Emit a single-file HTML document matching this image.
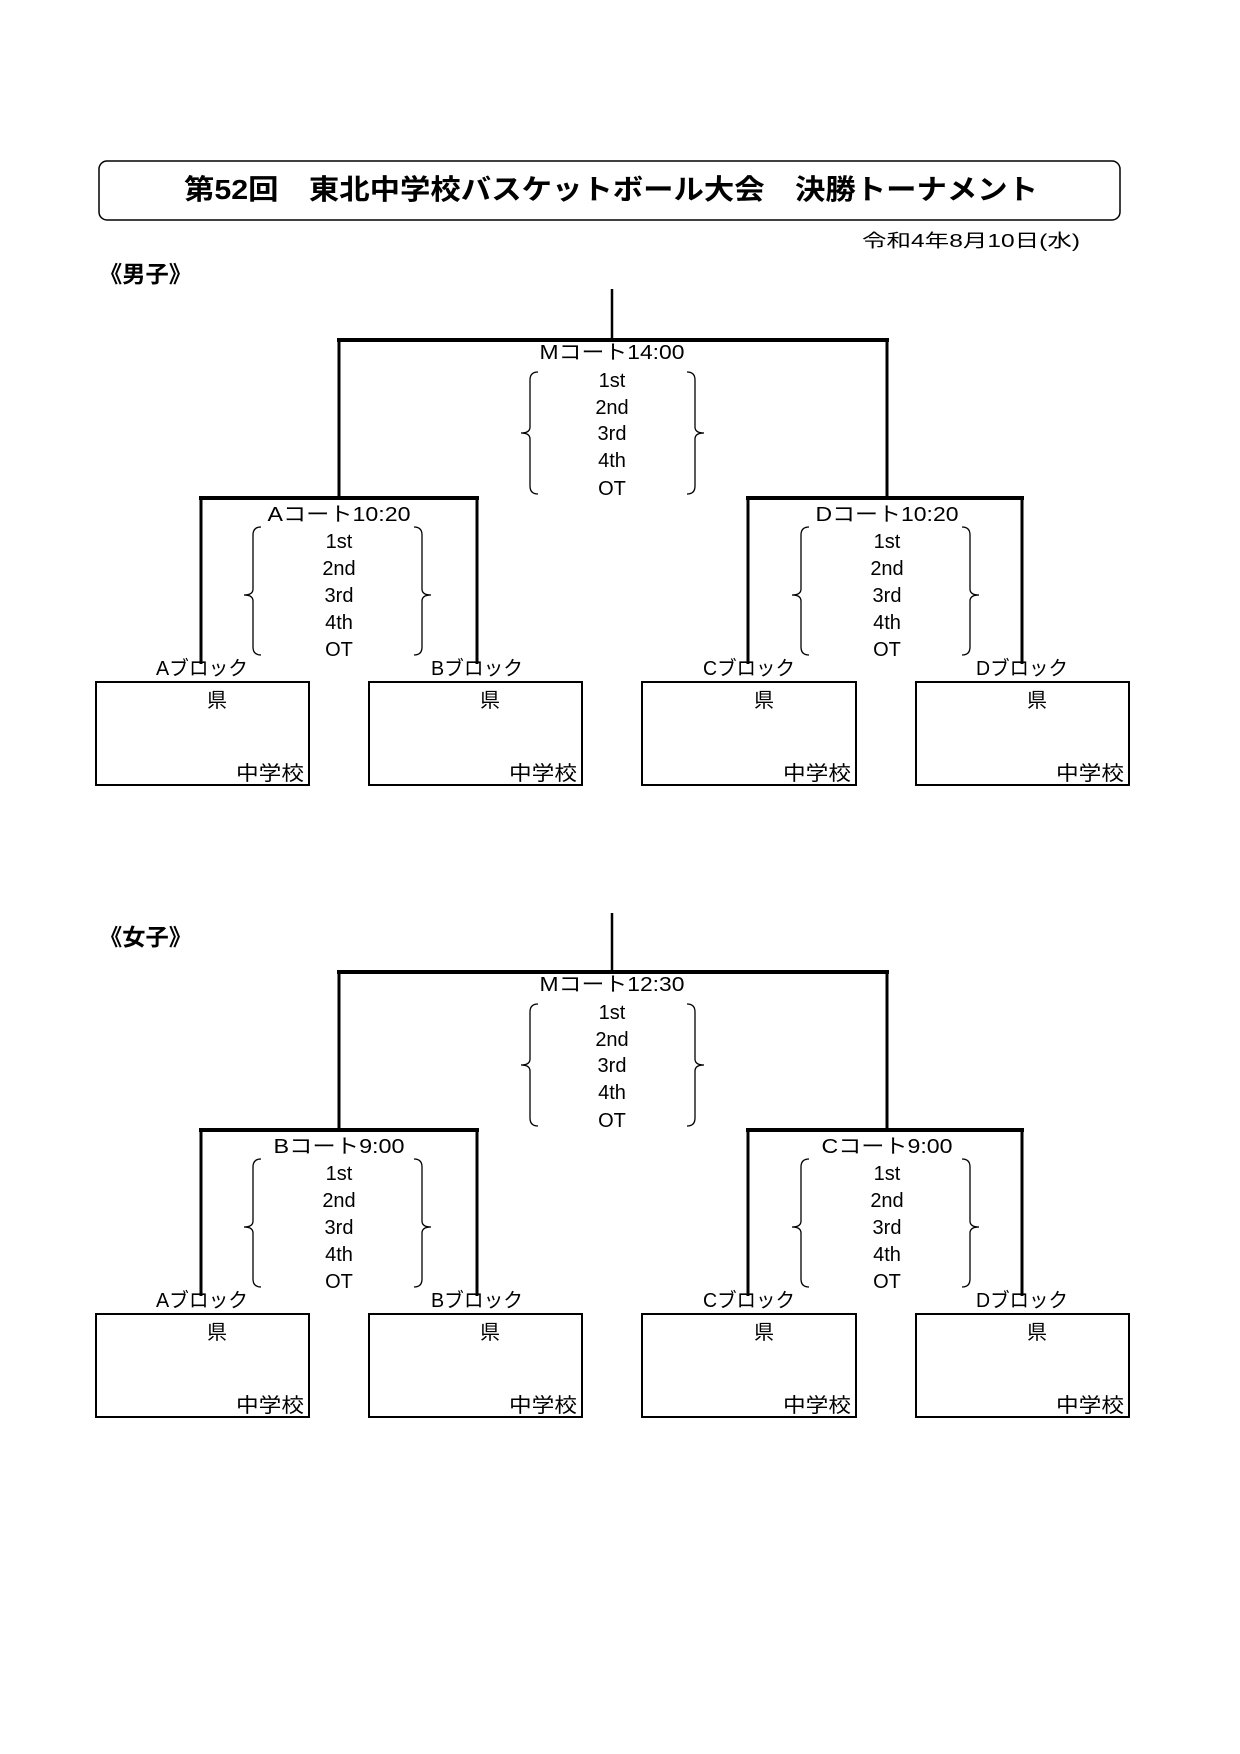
<!DOCTYPE html>
<html><head><meta charset="utf-8"><style>
html,body{margin:0;padding:0;background:#fff}
svg{display:block}
text{font-family:"Liberation Sans","Noto Sans CJK JP",sans-serif;fill:#000}
</style></head><body>
<svg width="1240" height="1754" viewBox="0 0 1240 1754" xmlns="http://www.w3.org/2000/svg">
<rect x="99" y="161" width="1021" height="59" rx="8" fill="none" stroke="#000" stroke-width="1.5"/>
<text x="611" y="199" font-size="28" font-weight="bold" text-anchor="middle" textLength="854" lengthAdjust="spacingAndGlyphs">第52回　東北中学校バスケットボール大会　決勝トーナメント</text>
<text x="1080" y="247" font-size="18" text-anchor="end" textLength="218" lengthAdjust="spacingAndGlyphs">令和4年8月10日(水)</text>
<text x="99" y="282" font-size="23" font-weight="bold" textLength="93" lengthAdjust="spacingAndGlyphs">《男子》</text>
<text x="99" y="945" font-size="23" font-weight="bold" textLength="93" lengthAdjust="spacingAndGlyphs">《女子》</text>

<g id="male">
<g stroke="#000" fill="none">
<line x1="612" y1="289" x2="612" y2="340" stroke-width="2.5"/>
<line x1="337" y1="340" x2="889" y2="340" stroke-width="4"/>
<line x1="339" y1="340" x2="339" y2="498" stroke-width="3"/>
<line x1="887" y1="340" x2="887" y2="498" stroke-width="3"/>
<line x1="199" y1="498" x2="479" y2="498" stroke-width="4"/>
<line x1="746" y1="498" x2="1024" y2="498" stroke-width="4"/>
<line x1="201" y1="498" x2="201" y2="664" stroke-width="3"/>
<line x1="477" y1="498" x2="477" y2="664" stroke-width="3"/>
<line x1="748" y1="498" x2="748" y2="664" stroke-width="3"/>
<line x1="1022" y1="498" x2="1022" y2="664" stroke-width="3"/>
<g stroke-width="1.3">
<path d="M538 372 Q530 372 530 380 L530 427 Q530 433 521 433 Q530 433 530 439 L530 486 Q530 494 538 494"/>
<path d="M687 372 Q695 372 695 380 L695 427 Q695 433 704 433 Q695 433 695 439 L695 486 Q695 494 687 494"/>
<path d="M261 527 Q253 527 253 535 L253 589 Q253 595 244 595 Q253 595 253 601 L253 647 Q253 655 261 655"/>
<path d="M414 527 Q422 527 422 535 L422 589 Q422 595 431 595 Q422 595 422 601 L422 647 Q422 655 414 655"/>
<path d="M809 527 Q801 527 801 535 L801 589 Q801 595 792 595 Q801 595 801 601 L801 647 Q801 655 809 655"/>
<path d="M962 527 Q970 527 970 535 L970 589 Q970 595 979 595 Q970 595 970 601 L970 647 Q970 655 962 655"/>
</g>
<g stroke-width="2">
<rect x="96" y="682" width="213" height="103"/>
<rect x="369" y="682" width="213" height="103"/>
<rect x="642" y="682" width="214" height="103"/>
<rect x="916" y="682" width="213" height="103"/>
</g>
</g>
<g font-size="20" text-anchor="middle">
<text x="612" y="359" textLength="145" lengthAdjust="spacingAndGlyphs">Mコート14:00</text>
<text x="612" y="387">1st</text><text x="612" y="414">2nd</text><text x="612" y="440">3rd</text><text x="612" y="467">4th</text><text x="612" y="495">OT</text>
<text x="339" y="521" textLength="143" lengthAdjust="spacingAndGlyphs">Aコート10:20</text>
<text x="339" y="548">1st</text><text x="339" y="575">2nd</text><text x="339" y="602">3rd</text><text x="339" y="629">4th</text><text x="339" y="656">OT</text>
<text x="887" y="521" textLength="143" lengthAdjust="spacingAndGlyphs">Dコート10:20</text>
<text x="887" y="548">1st</text><text x="887" y="575">2nd</text><text x="887" y="602">3rd</text><text x="887" y="629">4th</text><text x="887" y="656">OT</text>
<text x="202" y="675" textLength="92" lengthAdjust="spacingAndGlyphs">Aブロック</text>
<text x="477" y="675" textLength="92" lengthAdjust="spacingAndGlyphs">Bブロック</text>
<text x="749" y="675" textLength="92" lengthAdjust="spacingAndGlyphs">Cブロック</text>
<text x="1022" y="675" textLength="92" lengthAdjust="spacingAndGlyphs">Dブロック</text>
<text x="217" y="707">県</text><text x="490" y="707">県</text><text x="764" y="707">県</text><text x="1037" y="707">県</text>
</g>
<g font-size="20" text-anchor="end">
<text x="304" y="780" textLength="68" lengthAdjust="spacingAndGlyphs">中学校</text>
<text x="577" y="780" textLength="68" lengthAdjust="spacingAndGlyphs">中学校</text>
<text x="851" y="780" textLength="68" lengthAdjust="spacingAndGlyphs">中学校</text>
<text x="1124" y="780" textLength="68" lengthAdjust="spacingAndGlyphs">中学校</text>
</g>
</g>

<g transform="translate(0,632)">
<g stroke="#000" fill="none">
<line x1="612" y1="281" x2="612" y2="340" stroke-width="2.5"/>
<line x1="337" y1="340" x2="889" y2="340" stroke-width="4"/>
<line x1="339" y1="340" x2="339" y2="498" stroke-width="3"/>
<line x1="887" y1="340" x2="887" y2="498" stroke-width="3"/>
<line x1="199" y1="498" x2="479" y2="498" stroke-width="4"/>
<line x1="746" y1="498" x2="1024" y2="498" stroke-width="4"/>
<line x1="201" y1="498" x2="201" y2="664" stroke-width="3"/>
<line x1="477" y1="498" x2="477" y2="664" stroke-width="3"/>
<line x1="748" y1="498" x2="748" y2="664" stroke-width="3"/>
<line x1="1022" y1="498" x2="1022" y2="664" stroke-width="3"/>
<g stroke-width="1.3">
<path d="M538 372 Q530 372 530 380 L530 427 Q530 433 521 433 Q530 433 530 439 L530 486 Q530 494 538 494"/>
<path d="M687 372 Q695 372 695 380 L695 427 Q695 433 704 433 Q695 433 695 439 L695 486 Q695 494 687 494"/>
<path d="M261 527 Q253 527 253 535 L253 589 Q253 595 244 595 Q253 595 253 601 L253 647 Q253 655 261 655"/>
<path d="M414 527 Q422 527 422 535 L422 589 Q422 595 431 595 Q422 595 422 601 L422 647 Q422 655 414 655"/>
<path d="M809 527 Q801 527 801 535 L801 589 Q801 595 792 595 Q801 595 801 601 L801 647 Q801 655 809 655"/>
<path d="M962 527 Q970 527 970 535 L970 589 Q970 595 979 595 Q970 595 970 601 L970 647 Q970 655 962 655"/>
</g>
<g stroke-width="2">
<rect x="96" y="682" width="213" height="103"/>
<rect x="369" y="682" width="213" height="103"/>
<rect x="642" y="682" width="214" height="103"/>
<rect x="916" y="682" width="213" height="103"/>
</g>
</g>
<g font-size="20" text-anchor="middle">
<text x="612" y="359" textLength="145" lengthAdjust="spacingAndGlyphs">Mコート12:30</text>
<text x="612" y="387">1st</text><text x="612" y="414">2nd</text><text x="612" y="440">3rd</text><text x="612" y="467">4th</text><text x="612" y="495">OT</text>
<text x="339" y="521" textLength="131" lengthAdjust="spacingAndGlyphs">Bコート9:00</text>
<text x="339" y="548">1st</text><text x="339" y="575">2nd</text><text x="339" y="602">3rd</text><text x="339" y="629">4th</text><text x="339" y="656">OT</text>
<text x="887" y="521" textLength="131" lengthAdjust="spacingAndGlyphs">Cコート9:00</text>
<text x="887" y="548">1st</text><text x="887" y="575">2nd</text><text x="887" y="602">3rd</text><text x="887" y="629">4th</text><text x="887" y="656">OT</text>
<text x="202" y="675" textLength="92" lengthAdjust="spacingAndGlyphs">Aブロック</text>
<text x="477" y="675" textLength="92" lengthAdjust="spacingAndGlyphs">Bブロック</text>
<text x="749" y="675" textLength="92" lengthAdjust="spacingAndGlyphs">Cブロック</text>
<text x="1022" y="675" textLength="92" lengthAdjust="spacingAndGlyphs">Dブロック</text>
<text x="217" y="707">県</text><text x="490" y="707">県</text><text x="764" y="707">県</text><text x="1037" y="707">県</text>
</g>
<g font-size="20" text-anchor="end">
<text x="304" y="780" textLength="68" lengthAdjust="spacingAndGlyphs">中学校</text>
<text x="577" y="780" textLength="68" lengthAdjust="spacingAndGlyphs">中学校</text>
<text x="851" y="780" textLength="68" lengthAdjust="spacingAndGlyphs">中学校</text>
<text x="1124" y="780" textLength="68" lengthAdjust="spacingAndGlyphs">中学校</text>
</g>
</g>
</svg>
</body></html>
